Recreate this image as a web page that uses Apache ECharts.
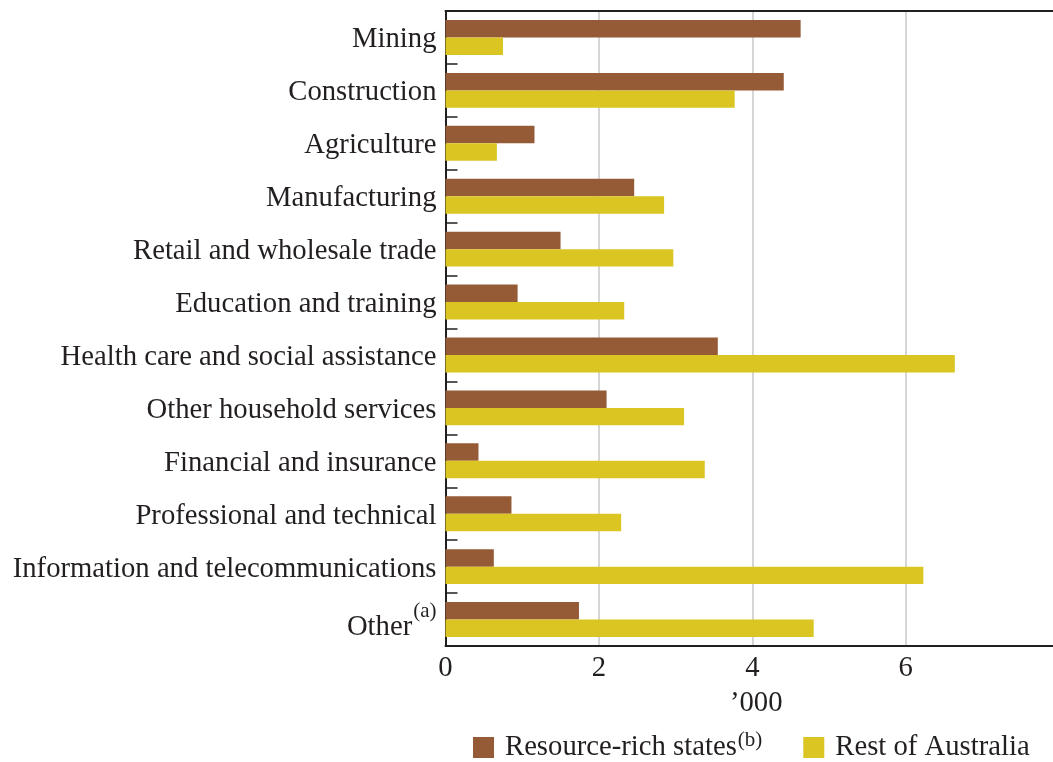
<!DOCTYPE html>
<html>
<head>
<meta charset="utf-8">
<script src="https://cdn.jsdelivr.net/npm/echarts@6/dist/echarts.min.js"></script>
<style>html,body{margin:0;padding:0;background:#fff;}#c{width:1053px;height:762px;}</style>
</head>
<body>
<div id="c"></div>
<script>
const categories = ["Mining","Construction","Agriculture","Manufacturing","Retail and wholesale trade","Education and training","Health care and social assistance","Other household services","Financial and insurance","Professional and technical","Information and telecommunications","Other"];
const resourceRich = [4.63,4.41,1.16,2.46,1.50,0.94,3.55,2.10,0.43,0.86,0.63,1.74];
const restOfAustralia = [0.75,3.77,0.67,2.85,2.97,2.33,6.64,3.11,3.38,2.29,6.23,4.80];
const xTicks = [0,2,4,6];

const FONT = 'Liberation Serif';
const TXT = '#231f20';
const FS = 28.7;
const chart = echarts.init(document.getElementById('c'));
chart.setOption({
  animation: false,
  backgroundColor: '#ffffff',
  grid: {left: 445.5, right: 0, top: 11, bottom: 116, containLabel: false},
  legend: {
    left: 468, top: 725,
    itemWidth: 21, itemHeight: 21, itemGap: 41,
    icon: 'rect',
    data: ['Resource-rich states','Rest of Australia'],
    formatter: function(n){ return n === 'Resource-rich states' ? '{n|' + n + '}{s|(b)}' : '{n|' + n + '}'; },
    textStyle: {
      fontFamily: FONT, color: TXT, fontSize: FS,
      rich: {
        n: {fontFamily: FONT, color: TXT, fontSize: FS, padding: [0,0,0,6]},
        s: {fontFamily: FONT, color: TXT, fontSize: 21, padding: [0,0,14,1]}
      }
    }
  },
  xAxis: [{
    type: 'value', position: 'bottom', min: 0, max: 7.92, interval: 2,
    name: '\u2019000', nameLocation: 'middle', nameGap: 43,
    nameTextStyle: {fontFamily: FONT, fontSize: FS, color: TXT, padding: [0,0,0,14]},
    axisLine: {show: true, lineStyle: {color: TXT, width: 2}},
    axisTick: {show: false},
    splitLine: {show: true, showMaxLine: false, lineStyle: {color: '#c8c8c8', width: 1.5}},
    axisLabel: {
      fontFamily: FONT, fontSize: FS, color: TXT, margin: 8, showMaxLabel: false,
      formatter: function(v){ return xTicks.indexOf(v) >= 0 ? String(v) : ''; }
    }
  },{
    type: 'value', position: 'top', min: 0, max: 7.92, interval: 2,
    axisLine: {show: true, lineStyle: {color: TXT, width: 2}},
    axisTick: {show: false}, axisLabel: {show: false}, splitLine: {show: false}
  }],
  yAxis: {
    type: 'category', inverse: true, data: categories,
    axisLine: {show: true, lineStyle: {color: TXT, width: 2}},
    axisTick: {show: true, inside: true, length: 12, lineStyle: {color: TXT, width: 1.5}},
    axisLabel: {
      fontFamily: FONT, fontSize: FS, color: TXT, margin: 9,
      formatter: function(v){ return v === 'Other' ? '{o|Other}{s|(a)}' : '{n|' + v + '}'; },
      rich: {
        n: {fontFamily: FONT, fontSize: FS, color: TXT, padding: [5,0,0,0]},
        o: {fontFamily: FONT, fontSize: FS, color: TXT, padding: [16,0,0,0]},
        s: {fontFamily: FONT, fontSize: 21, color: TXT, padding: [0,0,16,1]}
      }
    }
  },
  series: [{
    name: 'Resource-rich states', type: 'bar', data: resourceRich,
    itemStyle: {color: '#955b37'}, barGap: '0%', barCategoryGap: '34%'
  },{
    name: 'Rest of Australia', type: 'bar', data: restOfAustralia,
    itemStyle: {color: '#dac523'}, barGap: '0%', barCategoryGap: '34%'
  }]
});
</script>
</body>
</html>
